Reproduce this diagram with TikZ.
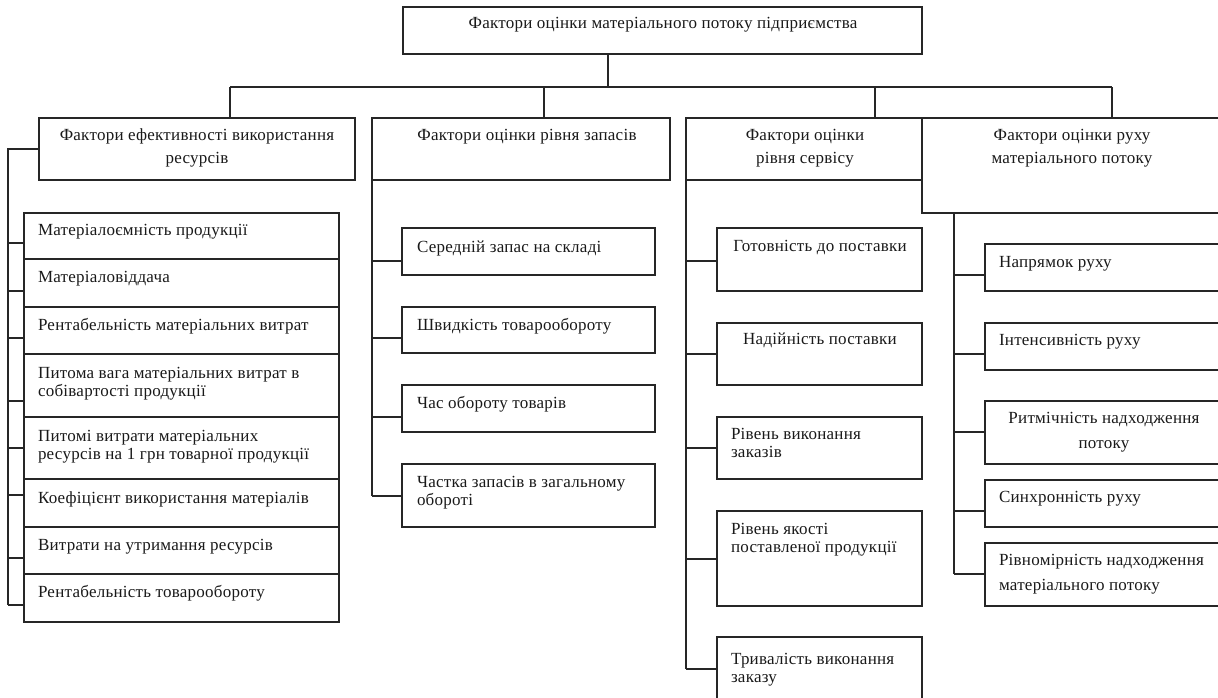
\documentclass[tikz,border=0pt]{standalone}
\usepackage{fontspec}
\setmainfont{Liberation Serif}[LetterSpace=1.5]
\tikzset{
  box/.style={draw=black!85, line width=1.1pt, rectangle, inner sep=0pt, outer sep=0pt, anchor=north west},
  txt/.style={inner sep=0pt, outer sep=0pt, text=black!90, font=\fontsize{17}{18.5}\selectfont},
  ttl/.style={txt, align=center, font=\fontsize{17}{23}\selectfont},
  wide/.style={font=\fontsize{17}{25}\selectfont},
  link/.style={draw=black!85, line width=1.1pt}
}
\newcommand\fbx[5]{\node[box, minimum width={#4-#2}, minimum height={#5-#3}] (#1) at (#2,#3) {};}
\begin{document}
\begin{tikzpicture}[x=1pt,y=-1pt]
\useasboundingbox (0,0) rectangle (1218,697);
% top
\fbx{T}{403}{7}{922}{54}
\node[txt, anchor=base] (tT) at (663,28) {Фактори оцінки матеріального потоку підприємства};
% level 1
\fbx{b1}{39}{118}{355}{180}
\fbx{b2}{372}{118}{670}{180}
\fbx{b3}{686}{118}{922}{180}
\fbx{b4}{922}{118}{1224}{213}
\node[ttl, anchor=base] (tb1) at (197,163) {Фактори ефективності використання\\ресурсів};
\node[ttl, anchor=base] (tb2) at (527,140) {Фактори оцінки рівня запасів};
\node[ttl, anchor=base] (tb3) at (805,163) {Фактори оцінки\\рівня сервісу};
\node[ttl, anchor=base] (tb4) at (1072,163) {Фактори оцінки руху\\матеріального потоку};
% bus
\coordinate (tj) at (608,87);
\coordinate (d1) at (230,87);
\coordinate (d2) at (544,87);
\coordinate (d3) at (875,87);
\coordinate (d4) at (1112,87);
\draw[link] (tj |- T.south) -- (tj);
\draw[link] (d1) -- (d4);
\draw[link] (d1) -- (d1 |- b1.north);
\draw[link] (d2) -- (d2 |- b2.north);
\draw[link] (d3) -- (d3 |- b3.north);
\draw[link] (d4) -- (d4 |- b4.north);
% column 1
\fbx{m1}{24}{213}{339}{259}
\fbx{m2}{24}{259}{339}{307}
\fbx{m3}{24}{307}{339}{354}
\fbx{m4}{24}{354}{339}{417}
\fbx{m5}{24}{417}{339}{479}
\fbx{m6}{24}{479}{339}{527}
\fbx{m7}{24}{527}{339}{574}
\fbx{m8}{24}{574}{339}{622}
\node[txt, anchor=base west, align=left] (tm1) at (38,235) {Матеріалоємність продукції};
\node[txt, anchor=base west, align=left] (tm2) at (38,282) {Матеріаловіддача};
\node[txt, anchor=base west, align=left] (tm3) at (38,330) {Рентабельність матеріальних витрат};
\node[txt, anchor=base west, align=left] (tm4) at (38,396.5) {Питома вага матеріальних витрат в\\собівартості продукції};
\node[txt, anchor=base west, align=left] (tm5) at (38,459.5) {Питомі витрати матеріальних\\ресурсів на 1 грн товарної продукції};
\node[txt, anchor=base west, align=left] (tm6) at (38,503) {Коефіцієнт використання матеріалів};
\node[txt, anchor=base west, align=left] (tm7) at (38,550) {Витрати на утримання ресурсів};
\node[txt, anchor=base west, align=left] (tm8) at (38,597) {Рентабельність товарообороту};
\coordinate (s1) at (8,149);
\draw[link] (b1.west) -- (s1) -- (s1 |- 0,605);
\foreach \n/\y in {m1/243,m2/291,m3/338,m4/401,m5/448,m6/495,m7/558,m8/605}
  \draw[link] (s1 |- 0,\y) -- (\n.west |- 0,\y);
% column 2
\fbx{z1}{402}{228}{655}{275}
\fbx{z2}{402}{307}{655}{353}
\fbx{z3}{402}{385}{655}{432}
\fbx{z4}{402}{464}{655}{527}
\node[txt, anchor=base west, align=left] (tz1) at (417,252) {Середній запас на складі};
\node[txt, anchor=base west, align=left] (tz2) at (417,330) {Швидкість товарообороту};
\node[txt, anchor=base west, align=left] (tz3) at (417,408) {Час обороту товарів};
\node[txt, anchor=base west, align=left] (tz4) at (417,505.5) {Частка запасів в загальному\\обороті};
\draw[link] (b2.south west) -- (b2.south west |- 0,496);
\foreach \n/\y in {z1/261,z2/338,z3/417,z4/496}
  \draw[link] (b2.south west |- 0,\y) -- (\n.west |- 0,\y);
% column 3
\fbx{c1}{717}{228}{922}{291}
\fbx{c2}{717}{323}{922}{385}
\fbx{c3}{717}{417}{922}{479}
\fbx{c4}{717}{511}{922}{606}
\fbx{c5}{717}{637}{922}{730}
\node[txt, anchor=base, align=center] (tc1) at (820,251) {Готовність до поставки};
\node[txt, anchor=base, align=center] (tc2) at (820,344) {Надійність поставки};
\node[txt, anchor=base west, align=left] (tc3) at (731,457.5) {Рівень виконання\\заказів};
\node[txt, anchor=base west, align=left] (tc4) at (731,552.5) {Рівень якості\\поставленої продукції};
\node[txt, anchor=base west, align=left] (tc5) at (731,682.5) {Тривалість виконання\\заказу};
\draw[link] (b3.south west) -- (b3.south west |- 0,669);
\foreach \n/\y in {c1/261,c2/354,c3/448,c4/559,c5/669}
  \draw[link] (b3.south west |- 0,\y) -- (\n.west |- 0,\y);
% column 4
\fbx{r1}{985}{244}{1224}{291}
\fbx{r2}{985}{323}{1224}{370}
\fbx{r3}{985}{401}{1224}{464}
\fbx{r4}{985}{480}{1224}{527}
\fbx{r5}{985}{543}{1224}{606}
\node[txt, anchor=base west, align=left] (tr1) at (999,267) {Напрямок руху};
\node[txt, anchor=base west, align=left] (tr2) at (999,345) {Інтенсивність руху};
\node[txt, wide, anchor=base, align=center] (tr3) at (1104,448) {Ритмічність надходження\\потоку};
\node[txt, anchor=base west, align=left] (tr4) at (999,502) {Синхронність руху};
\node[txt, wide, anchor=base west, align=left] (tr5) at (999,590) {Рівномірність надходження\\матеріального потоку};
\coordinate (s4) at (954,0);
\draw[link] (s4 |- b4.south) -- (s4 |- 0,574);
\foreach \n/\y in {r1/275,r2/354,r3/432,r4/511,r5/574}
  \draw[link] (s4 |- 0,\y) -- (\n.west |- 0,\y);
\end{tikzpicture}
\end{document}
